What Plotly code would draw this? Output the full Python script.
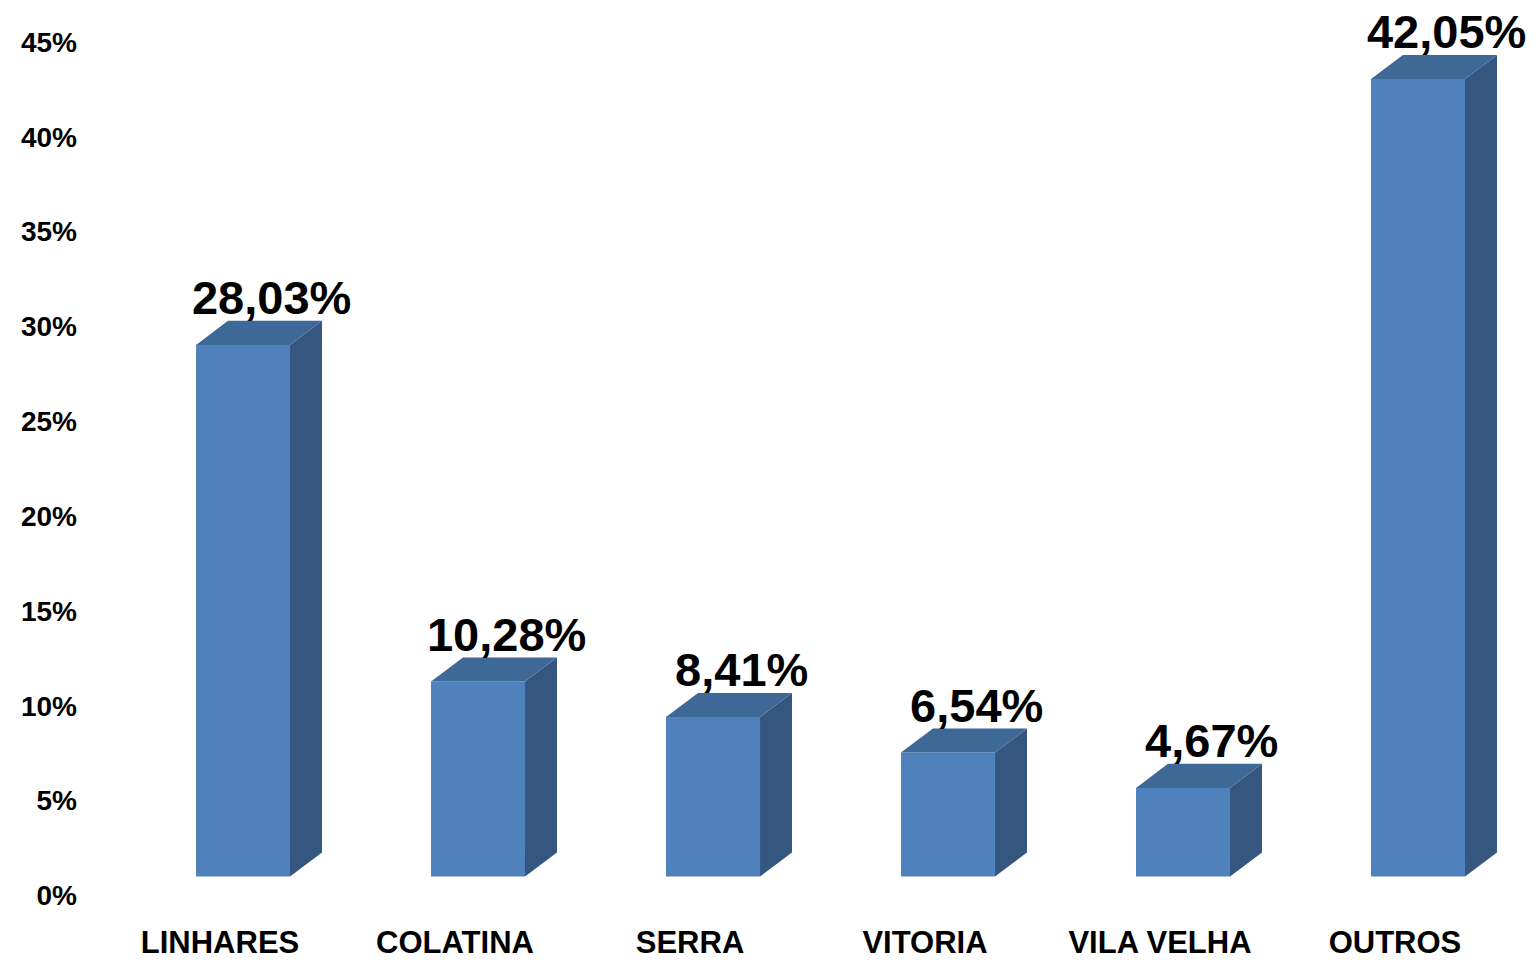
import plotly.graph_objects as go

categories = ["LINHARES", "COLATINA", "SERRA", "VITORIA", "VILA VELHA", "OUTROS"]
values = [28.03, 10.28, 8.41, 6.54, 4.67, 42.05]
y_ticks = [0, 5, 10, 15, 20, 25, 30, 35, 40, 45]

# 3D styling parameters (axis units)
BASE = 1.0        # front-face floor offset
OFFSET = -0.102   # front face left edge relative to category position
WIDTH = 0.40      # front face width
DX = 0.136        # depth offset in x
DY = 1.27         # depth offset in y (percentage points)
LABEL_DROP = 0.27 # data labels sit slightly lower than the top edge anchor

FRONT = "#4F81BD"
SIDE = "#34567F"
TOP = "#3E6896"
FONT = "Liberation Sans"

xs = list(range(len(categories)))
fig = go.Figure()

fig.add_trace(go.Bar(
    x=xs, y=values, base=[BASE] * len(values), width=WIDTH, offset=OFFSET,
    marker=dict(color=FRONT, line=dict(width=0)), showlegend=False, hoverinfo="skip"))

for i, v in zip(xs, values):
    xl = i + OFFSET
    xr = xl + WIDTH
    top = BASE + v
    # side face
    fig.add_trace(go.Scatter(
        x=[xr, xr + DX, xr + DX, xr, xr],
        y=[BASE, BASE + DY, top + DY, top, BASE],
        mode="lines", fill="toself", fillcolor=SIDE, line=dict(width=0, color=SIDE),
        showlegend=False, hoverinfo="skip"))
    # top face
    fig.add_trace(go.Scatter(
        x=[xl, xr, xr + DX, xl + DX, xl],
        y=[top, top, top + DY, top + DY, top],
        mode="lines", fill="toself", fillcolor=TOP, line=dict(width=0, color=TOP),
        showlegend=False, hoverinfo="skip"))

labels = [f"{v:.2f}".replace(".", ",") + "%" for v in values]
fig.add_trace(go.Scatter(
    x=[i + OFFSET + WIDTH / 2 + 0.122 for i in xs],
    y=[BASE + v + DY - LABEL_DROP for v in values],
    mode="text", text=labels, textposition="top center",
    textfont=dict(family=FONT, size=47, color="black", weight="bold"),
    showlegend=False, hoverinfo="skip", cliponaxis=False))

fig.update_layout(
    width=1538, height=965,
    margin=dict(l=82, r=18, t=2, b=73),
    plot_bgcolor="white", paper_bgcolor="white",
    xaxis=dict(
        range=[-0.5532, 5.5660], tickvals=xs, ticktext=categories,
        showgrid=False, zeroline=False, showline=False, ticks="",
        tickfont=dict(family=FONT, size=31, color="black", weight="bold"),
        ticklabelstandoff=21),
    yaxis=dict(
        range=[-0.237, 46.687], tickvals=y_ticks,
        ticktext=[f"{t}%" for t in y_ticks],
        showgrid=False, zeroline=False, showline=False, ticks="",
        tickfont=dict(family=FONT, size=28, color="black", weight="bold"),
        ticklabelstandoff=12),
)

fig.write_html("out.html")
